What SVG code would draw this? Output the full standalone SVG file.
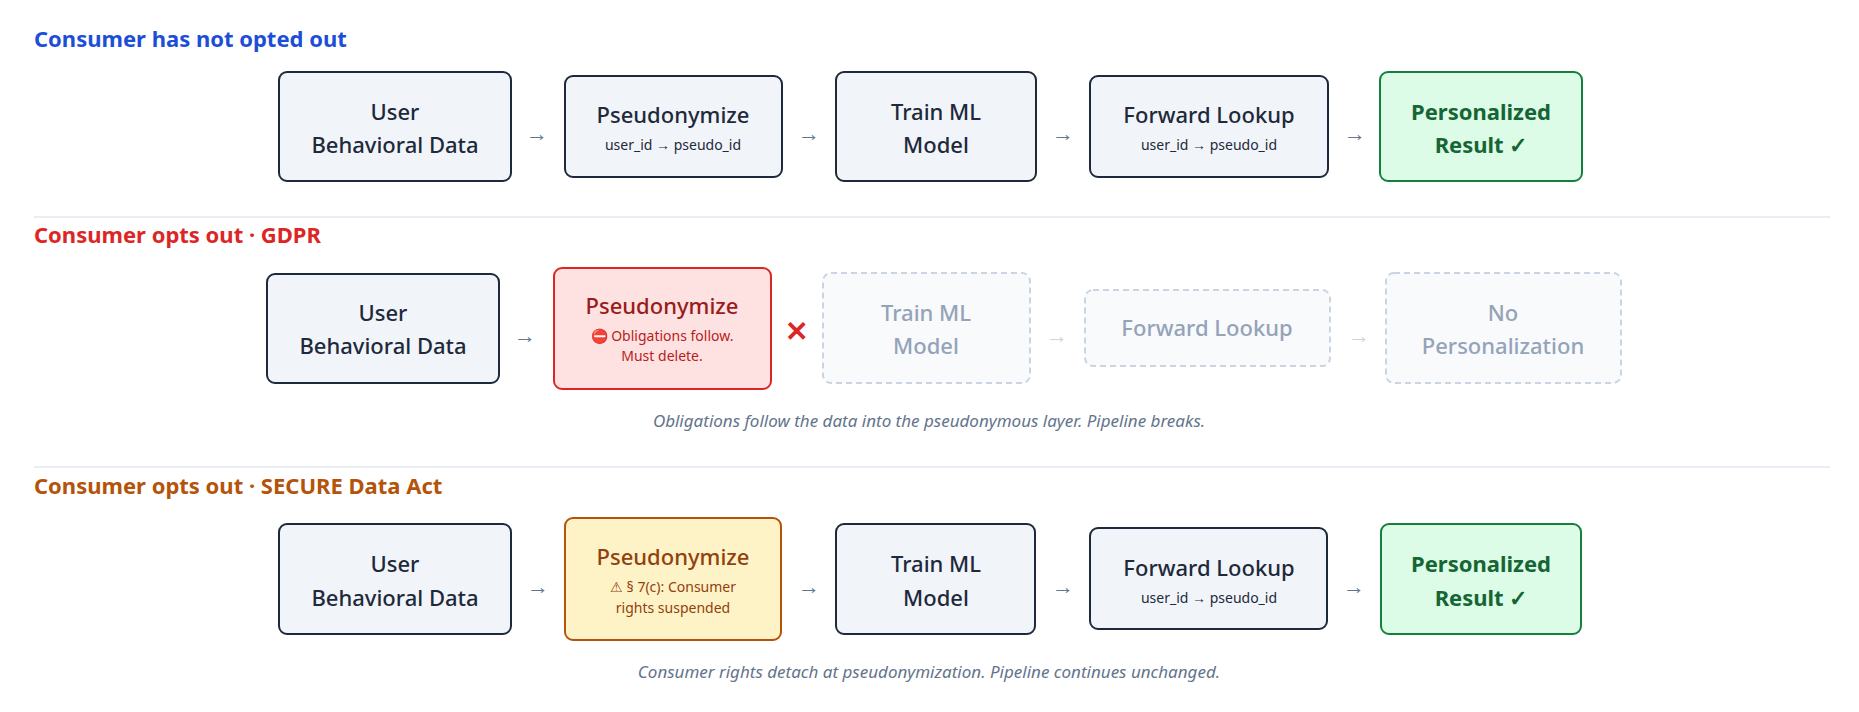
<svg xmlns="http://www.w3.org/2000/svg" width="1859" height="712" viewBox="0 0 1859 712">
<style>
text{font-family:"Noto Sans","Open Sans",sans-serif}
.t{font-size:22px;font-weight:700}
.m{font-size:22px;font-weight:500;fill:#1e293b;text-anchor:middle}
.s{font-size:14px;fill:#1e293b;text-anchor:middle}
.n{fill:#f1f5f9;stroke:#1e293b;stroke-width:2}
.g{fill:#dcfce7;stroke:#15803d;stroke-width:2}
.d{fill:#f8fafc;stroke:#cbd5e1;stroke-width:2;stroke-dasharray:6 4}
.a{font-size:22px;fill:#64748b;text-anchor:middle}
.ad{font-size:22px;fill:#cbd5e1;text-anchor:middle}
.c{font-size:17px;font-style:italic;fill:#64748b;text-anchor:middle}
.sep{stroke:#e2e8f0;stroke-width:1.5}
</style>
<rect width="1859" height="712" fill="#fff"/>
<text class="t" x="34" y="47" fill="#1d4ed8">Consumer has not opted out</text>
<text class="t" x="34" y="243" fill="#dc2626">Consumer opts out · GDPR</text>
<text class="t" x="34" y="494" fill="#b45309">Consumer opts out · SECURE Data Act</text>
<line class="sep" x1="34" y1="217" x2="1830" y2="217"/>
<line class="sep" x1="34" y1="467" x2="1830" y2="467"/>
<g id="r1-user"><rect class="n" x="279" y="72" width="232" height="109" rx="8"/><text class="m" x="395" y="120">User</text><text class="m" x="395" y="153">Behavioral Data</text></g>
<g id="r1-pseudo"><rect class="n" x="565" y="76" width="217" height="101" rx="8"/><text class="m" x="673" y="123">Pseudonymize</text><text class="s" x="673" y="150">user_id → pseudo_id</text></g>
<g id="r1-train"><rect class="n" x="836" y="72" width="200" height="109" rx="8"/><text class="m" x="936" y="120">Train ML</text><text class="m" x="936" y="153">Model</text></g>
<g id="r1-fwd"><rect class="n" x="1090" y="76" width="238" height="101" rx="8"/><text class="m" x="1209" y="123">Forward Lookup</text><text class="s" x="1209" y="150">user_id → pseudo_id</text></g>
<g id="r1-res"><rect class="g" x="1380" y="72" width="202" height="109" rx="8"/><text class="m" x="1481" y="120" style="fill:#166534;font-weight:700">Personalized</text><text class="m" x="1481" y="153" style="fill:#166534;font-weight:700">Result ✓</text></g>
<g id="r2-user"><rect class="n" x="267" y="274" width="232" height="109" rx="8"/><text class="m" x="383" y="321">User</text><text class="m" x="383" y="354">Behavioral Data</text></g>
<g id="r2-pseudo"><rect x="554" y="268" width="217" height="121" rx="8" fill="#fee2e2" stroke="#dc2626" stroke-width="2"/><text class="m" x="662" y="314" style="fill:#991b1b">Pseudonymize</text><text class="s" x="662" y="341" style="fill:#b91c1c">⛔ Obligations follow.</text><text class="s" x="662" y="361" style="fill:#b91c1c">Must delete.</text></g>
<g id="r2-train"><rect class="d" x="823" y="273" width="207" height="110" rx="8"/><text class="m" x="926" y="321" style="fill:#94a3b8">Train ML</text><text class="m" x="926" y="354" style="fill:#94a3b8">Model</text></g>
<g id="r2-fwd"><rect class="d" x="1085" y="290" width="245" height="76" rx="8"/><text class="m" x="1207" y="336" style="fill:#94a3b8">Forward Lookup</text></g>
<g id="r2-res"><rect class="d" x="1386" y="273" width="235" height="110" rx="8"/><text class="m" x="1503" y="321" style="fill:#94a3b8">No</text><text class="m" x="1503" y="354" style="fill:#94a3b8">Personalization</text></g>
<g id="r3-user"><rect class="n" x="279" y="524" width="232" height="110" rx="8"/><text class="m" x="395" y="572">User</text><text class="m" x="395" y="606">Behavioral Data</text></g>
<g id="r3-pseudo"><rect x="565" y="518" width="216" height="122" rx="8" fill="#fef3c7" stroke="#b45309" stroke-width="2"/><text class="m" x="673" y="565" style="fill:#92400e">Pseudonymize</text><text class="s" x="673" y="592" style="fill:#92400e">⚠ § 7(c): Consumer</text><text class="s" x="673" y="613" style="fill:#92400e">rights suspended</text></g>
<g id="r3-train"><rect class="n" x="836" y="524" width="199" height="110" rx="8"/><text class="m" x="936" y="572">Train ML</text><text class="m" x="936" y="606">Model</text></g>
<g id="r3-fwd"><rect class="n" x="1090" y="528" width="237" height="101" rx="8"/><text class="m" x="1209" y="576">Forward Lookup</text><text class="s" x="1209" y="603">user_id → pseudo_id</text></g>
<g id="r3-res"><rect class="g" x="1381" y="524" width="200" height="110" rx="8"/><text class="m" x="1481" y="572" style="fill:#166534;font-weight:700">Personalized</text><text class="m" x="1481" y="606" style="fill:#166534;font-weight:700">Result ✓</text></g>
<g id="connectors">
<text class="a" x="537" y="141">→</text><text class="a" x="809" y="141">→</text><text class="a" x="1063" y="141">→</text><text class="a" x="1355" y="141">→</text>
<text class="a" x="525" y="343">→</text>
<text x="796" y="341" font-size="28" font-weight="700" fill="#dc2626" text-anchor="middle">✕</text>
<text class="ad" x="1057" y="343">→</text><text class="ad" x="1359" y="343">→</text>
<text class="a" x="538" y="594">→</text><text class="a" x="809" y="594">→</text><text class="a" x="1063" y="594">→</text><text class="a" x="1354" y="594">→</text>
</g>
<text class="c" x="929" y="427">Obligations follow the data into the pseudonymous layer. Pipeline breaks.</text>
<text class="c" x="929" y="678">Consumer rights detach at pseudonymization. Pipeline continues unchanged.</text>
</svg>
